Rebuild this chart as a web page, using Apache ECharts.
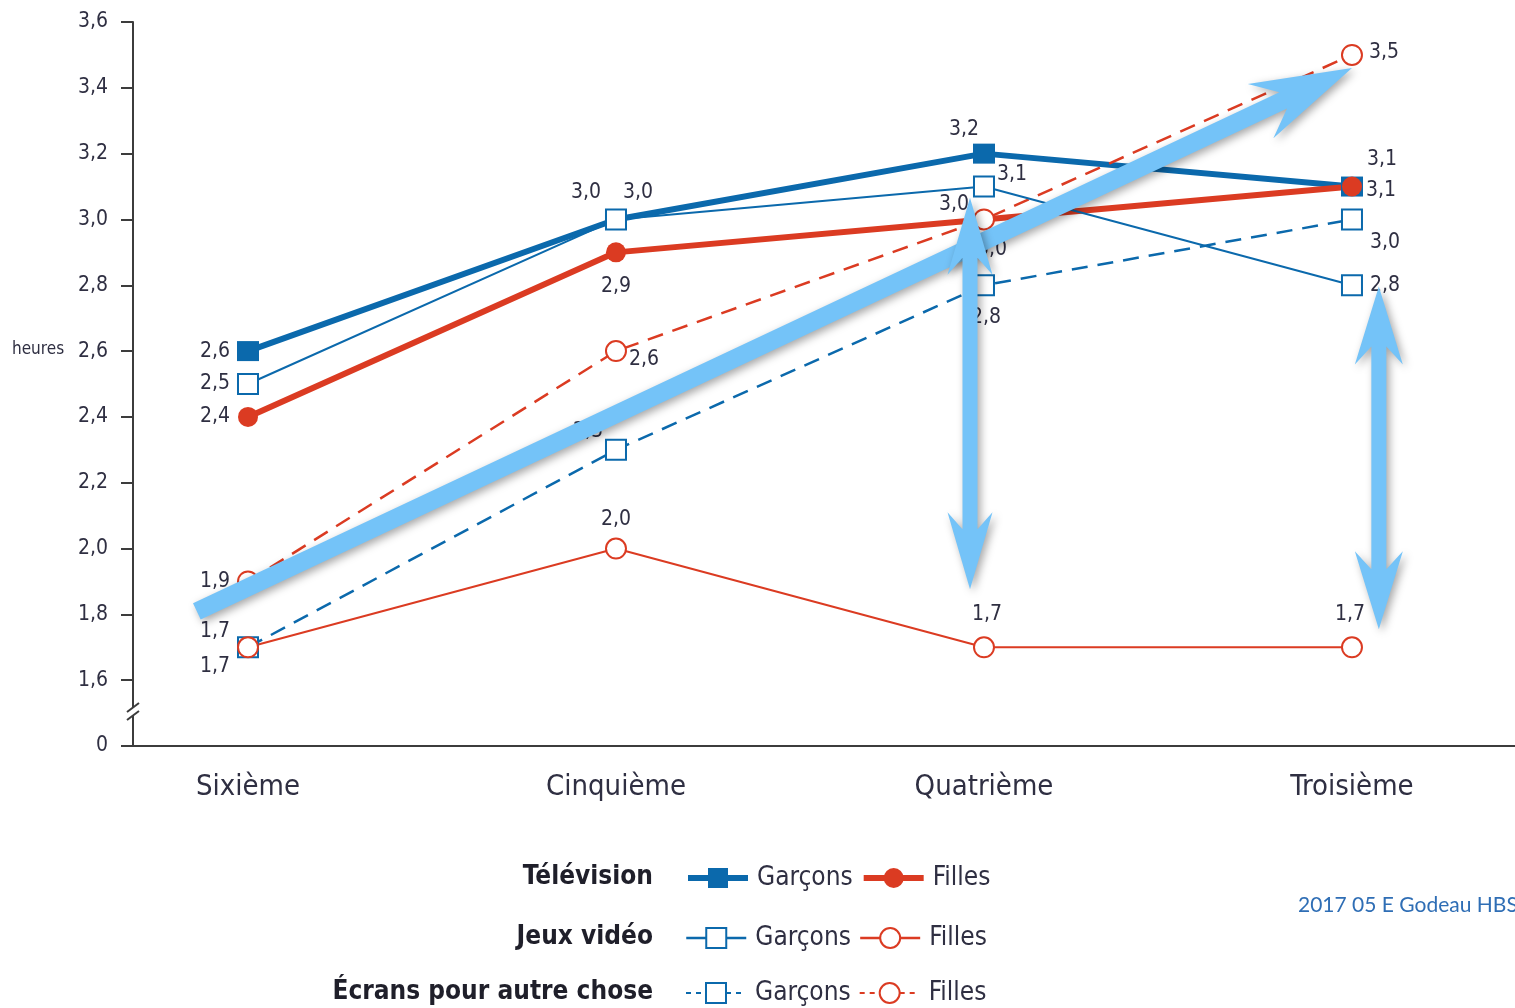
<!DOCTYPE html>
<html lang="fr">
<head>
<meta charset="utf-8">
<title>Temps passé devant les écrans</title>
<script src="https://cdn.jsdelivr.net/npm/echarts@6/dist/echarts.min.js"></script>
<style>
  html, body { margin: 0; padding: 0; background: #fff; }
  #chart { width: 1515px; height: 1008px; }
</style>
</head>
<body>
<div id="chart"></div>
<script>
// Niveaux scolaires (axe horizontal)
const categories = ['Sixième', 'Cinquième', 'Quatrième', 'Troisième'];

// Heures par jour, par niveau
const tvGarcons = [2.6, 3.0, 3.2, 3.1];
const tvFilles = [2.4, 2.9, 3.0, 3.1];
const jeuxGarcons = [2.5, 3.0, 3.1, 2.8];
const jeuxFilles = [1.7, 2.0, 1.7, 1.7];
const autreGarcons = [1.7, 2.3, 2.8, 3.0];
const autreFilles = [1.9, 2.6, 3.0, 3.5];

// Graduations de l'axe vertical (la plus basse est affichée « 0 », axe coupé)
const yTicks = [1.4, 1.6, 1.8, 2.0, 2.2, 2.4, 2.6, 2.8, 3.0, 3.2, 3.4, 3.6];

// Flèches d'annotation en coordonnées de données : [x1, y1, x2, y2, doubleFlèche]
const arrowPaths = [
  [-0.139, 1.809, 3.0, 3.460, 0],
  [1.962, 1.876, 1.962, 3.066, 1],
  [3.073, 1.755, 3.073, 2.796, 1]
];
// Dimensions des flèches en pixels : [corps, longueur de pointe, encoche, largeur de pointe]
const arrowDims = [
  [18, 101, 76, 60],
  [15, 77, 60, 45],
  [15, 78, 60, 48]
];

// Décalage des étiquettes par rapport à chaque point
const labelOffsets = {
  tvG: [[-33, 0], [-30, -27], [-20, -24], [30, -27]],
  tvF: [[-33, 0], [0, 34], [-30, -15], [29, 4]],
  jvG: [[-33, 0], [22, -27], [28, -12], [33, 0]],
  jvF: [[-33, 19], [0, -29], [3, -33], [-2, -33]],
  aG: [[-33, -16], [-28, -18], [2, 32], [33, 23]],
  aF: [[-33, 0], [28, 8], [8, 30], [32, -2]]
};

const BLUE = '#0B69AC';
const RED = '#DB3B22';
const TEXT = '#2f2f42';
const NARROW = "'Liberation Sans Narrow', 'DejaVu Sans Condensed', 'Roboto', sans-serif";
const ARROW = '#74C3F8';

const fmt = v => v.toFixed(1).replace('.', ',');

function points(values, offsets) {
  return values.map((v, i) => ({
    value: [i, v],
    label: { offset: offsets[i] }
  }));
}

function lineSeries(name, values, offsets, color, opts) {
  return Object.assign({
    name: name,
    type: 'line',
    data: points(values, offsets),
    symbolKeepAspect: false,
    lineStyle: { color: color, width: opts.width, type: opts.dash || 'solid' },
    itemStyle: { color: color, borderColor: color, borderWidth: opts.border || 0 },
    label: {
      show: true,
      position: 'inside',
      formatter: p => fmt(p.value[1]),
      fontFamily: NARROW,
      fontSize: 21,
      color: TEXT
    },
    emphasis: { disabled: true },
    z: 3
  }, opts.extra);
}

function arrowPolygon(a, b, dims, both) {
  const [w, L, N, W] = dims;
  const dx = b[0] - a[0], dy = b[1] - a[1];
  const len = Math.hypot(dx, dy);
  const u = [dx / len, dy / len];
  const n = [-u[1], u[0]];
  const pt = (p, su, sn) => [p[0] + u[0] * su + n[0] * sn, p[1] + u[1] * su + n[1] * sn];
  const pts = [];
  pts.push(both ? pt(a, N, w / 2) : pt(a, 0, w / 2));
  pts.push(pt(b, -N, w / 2), pt(b, -L, W / 2), b.slice(), pt(b, -L, -W / 2), pt(b, -N, -w / 2));
  if (both) {
    pts.push(pt(a, N, -w / 2), pt(a, L, -W / 2), a.slice(), pt(a, L, W / 2));
  } else {
    pts.push(pt(a, 0, -w / 2));
  }
  return pts;
}

const legendCommon = {
  left: 680,
  itemWidth: 60,
  itemHeight: 25,
  itemGap: 8,
  selectedMode: false,
  formatter: name => name.split(' | ')[1],
  textStyle: { fontFamily: NARROW, fontSize: 26, color: TEXT, padding: [0, 0, 0, 4] }
};

function legendItem(name, width, dash) {
  return { name: name, lineStyle: { width: width, type: dash || 'solid' } };
}

const chart = echarts.init(document.getElementById('chart'), null, { renderer: 'canvas' });

chart.setOption({
  animation: false,
  backgroundColor: '#ffffff',
  grid: { left: 133, right: 0, top: 22, bottom: 262, containLabel: false },
  xAxis: {
    type: 'value',
    min: -0.3125,
    max: 3.443,
    axisLine: { show: true, onZero: false, lineStyle: { color: '#3c3c3c', width: 2 } },
    axisTick: { show: false },
    splitLine: { show: false },
    axisLabel: {
      customValues: [0, 1, 2, 3],
      formatter: v => categories[v],
      margin: 27,
      fontFamily: NARROW,
      fontSize: 29,
      color: TEXT
    }
  },
  yAxis: {
    type: 'value',
    min: 1.4,
    max: 3.6,
    interval: 0.2,
    axisLine: { show: true, onZero: false, lineStyle: { color: '#3c3c3c', width: 2 } },
    axisTick: { show: true, length: 12, lineStyle: { color: '#3c3c3c', width: 2 } },
    splitLine: { show: false },
    axisLabel: {
      customValues: yTicks,
      formatter: v => (Math.abs(v - yTicks[0]) < 1e-6 ? '0' : fmt(v)),
      margin: 25,
      fontFamily: NARROW,
      fontSize: 21,
      color: TEXT
    }
  },
  legend: [
    Object.assign({ top: 860, data: [legendItem('Télévision | Garçons', 6), legendItem('Télévision | Filles', 6)] }, legendCommon),
    Object.assign({ top: 920, data: [legendItem('Jeux vidéo | Garçons', 2.5), legendItem('Jeux vidéo | Filles', 2.5)] }, legendCommon),
    Object.assign({ top: 975, data: [legendItem('Autre | Garçons', 2, [5, 5]), legendItem('Autre | Filles', 2, [5, 5])] }, legendCommon)
  ],
  graphic: [
    { type: 'text', left: 12, top: 341, style: { text: 'heures', font: "17px " + NARROW, fill: TEXT } },
    { type: 'text', right: 862, top: 864, style: { text: 'Télévision', font: "bold 26px " + NARROW, fill: '#1f1f2a', textAlign: 'right' } },
    { type: 'text', right: 862, top: 924, style: { text: 'Jeux vidéo', font: "bold 26px " + NARROW, fill: '#1f1f2a', textAlign: 'right' } },
    { type: 'text', right: 862, top: 979, style: { text: 'Écrans pour autre chose', font: "bold 26px " + NARROW, fill: '#1f1f2a', textAlign: 'right' } },
    { type: 'text', left: 1298, top: 895, style: { text: '2017 05 E Godeau HBSC', font: "21px 'Lato', 'Open Sans', sans-serif", fill: '#2F6EB5' } },
    // coupure de l'axe vertical
    { type: 'rect', shape: { x: 126, y: 707, width: 14, height: 9 }, style: { fill: '#fff' }, z: 20 },
    { type: 'line', shape: { x1: 127, y1: 712, x2: 139, y2: 703 }, style: { stroke: '#3c3c3c', lineWidth: 2 }, z: 21 },
    { type: 'line', shape: { x1: 127, y1: 720, x2: 139, y2: 711 }, style: { stroke: '#3c3c3c', lineWidth: 2 }, z: 21 }
  ],
  series: [
    lineSeries('Télévision | Garçons', tvGarcons, labelOffsets.tvG, BLUE,
      { width: 6, extra: { symbol: 'rect', symbolSize: [22, 20] } }),
    lineSeries('Télévision | Filles', tvFilles, labelOffsets.tvF, RED,
      { width: 6, extra: { symbol: 'circle', symbolSize: 20 } }),
    lineSeries('Autre | Garçons', autreGarcons, labelOffsets.aG, BLUE,
      { width: 2.5, dash: [16, 10], border: 2.5, extra: { symbol: 'emptyRect', symbolSize: 20 } }),
    lineSeries('Autre | Filles', autreFilles, labelOffsets.aF, RED,
      { width: 2.5, dash: [16, 10], border: 2.5, extra: { symbol: 'emptyCircle', symbolSize: 20 } }),
    lineSeries('Jeux vidéo | Garçons', jeuxGarcons, labelOffsets.jvG, BLUE,
      { width: 2, border: 2.5, extra: { symbol: 'emptyRect', symbolSize: 20 } }),
    lineSeries('Jeux vidéo | Filles', jeuxFilles, labelOffsets.jvF, RED,
      { width: 2, border: 2.5, extra: { symbol: 'emptyCircle', symbolSize: 20 } }),
    {
      type: 'custom',
      name: 'flèches',
      coordinateSystem: 'cartesian2d',
      data: arrowPaths,
      encode: { x: [0, 2], y: [1, 3] },
      silent: true,
      z: 10,
      clip: false,
      renderItem: (params, api) => {
        const a = arrowPaths[params.dataIndex];
        const p1 = api.coord([a[0], a[1]]);
        const p2 = api.coord([a[2], a[3]]);
        return {
          type: 'polygon',
          shape: { points: arrowPolygon(p1, p2, arrowDims[params.dataIndex], a[4] === 1) },
          style: {
            fill: ARROW,
            shadowBlur: 8,
            shadowColor: 'rgba(0,0,0,0.35)',
            shadowOffsetX: 3,
            shadowOffsetY: 3
          }
        };
      }
    }
  ]
});
</script>
</body>
</html>
